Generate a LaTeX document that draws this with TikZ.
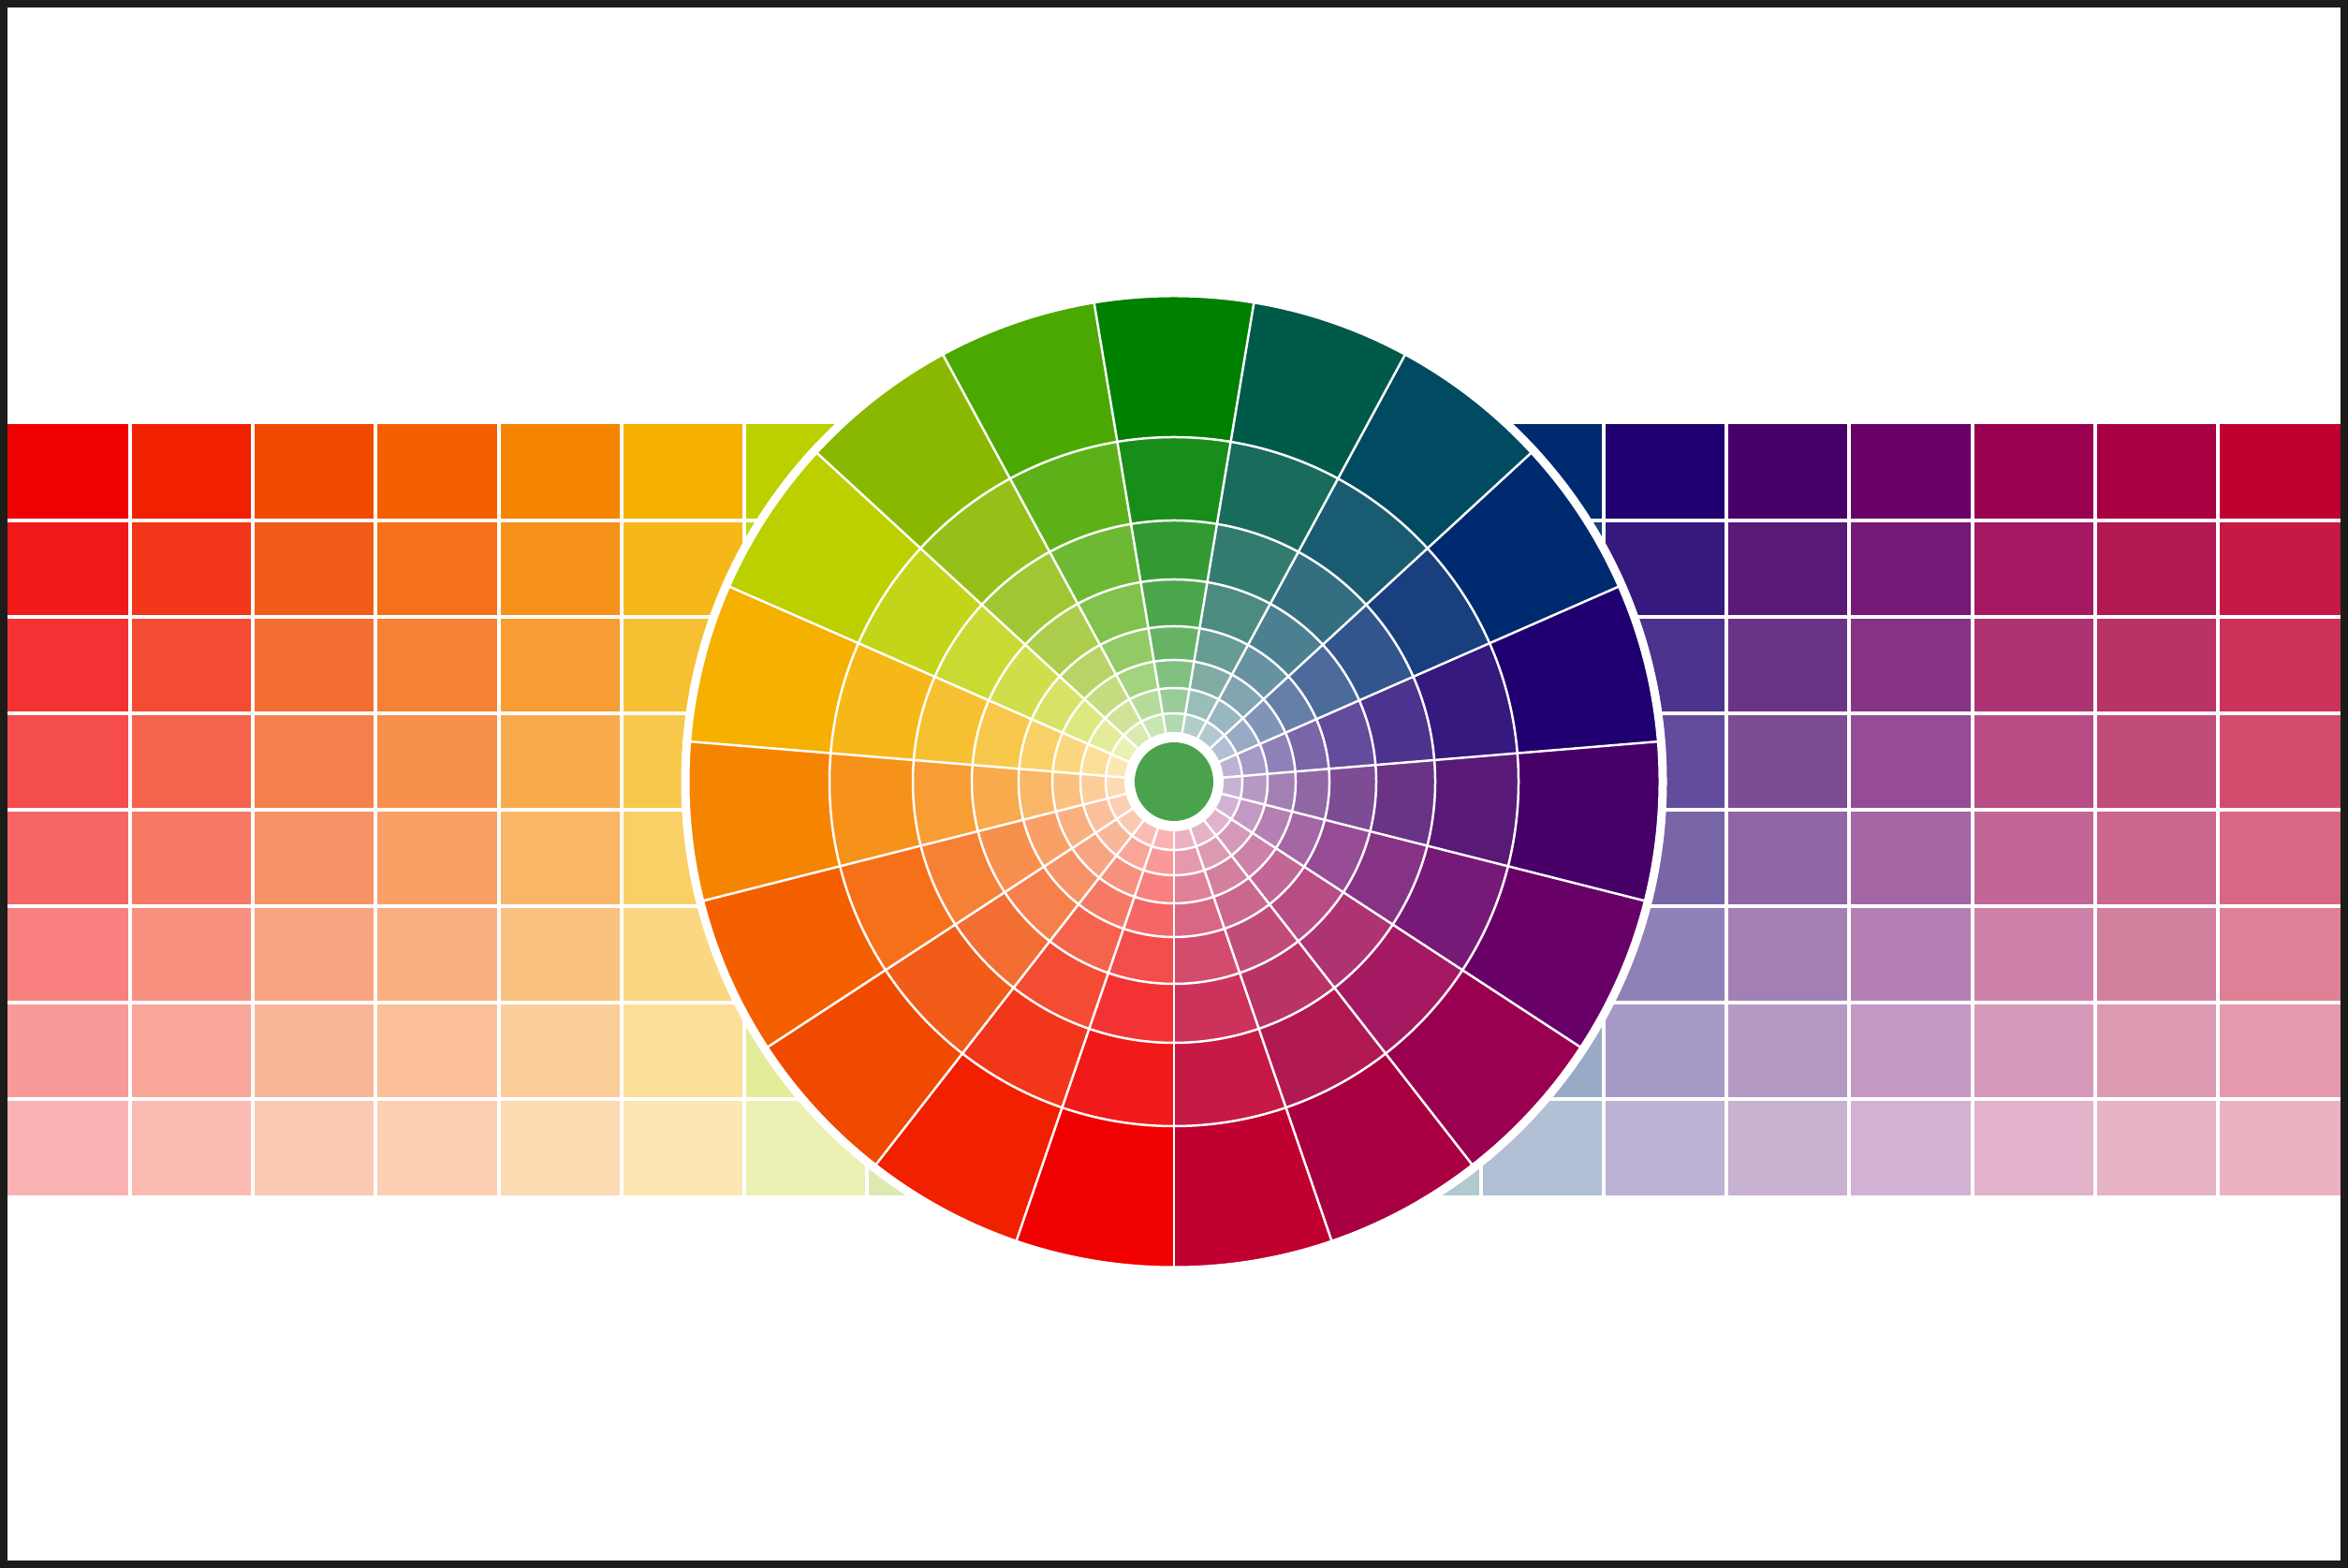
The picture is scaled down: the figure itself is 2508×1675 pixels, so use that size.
\documentclass[tikz,border=0pt]{standalone}
\usepackage{tikz}
\definecolor{frame}{HTML}{1C1C1B}
\definecolor{hubgreen}{HTML}{4AA34C}
\tikzset{
  cellgap/.style={white,line width=4pt},
  seam/.style={white,line width=2.5pt},
  rim/.style={white,line width=9pt}
}
\newcommand{\huelist}{F00000,F02000,F04A00,F46000,F58500,F5B000,BCD000,8AB800,4AA800,008000,005A4A,004A62,002A70,200070,460068,680068,9A0050,A80040,C00030}
\begin{document}
\begin{tikzpicture}[x=1pt,y=1pt]
    \useasboundingbox (0,0) rectangle (2508,1675);
    \fill[white] (0,0) rectangle (2508,1675);
    % grid of tints, one column per hue
    \foreach \c [count=\i from 0] in \huelist {
        \definecolor{base}{HTML}{\c}
        \foreach \r in {0,...,7} {
            \pgfmathtruncatemacro\pct{100-10*\r}
            \fill[base!\pct!white] ({8+131.16*\i},{1222-103*\r}) rectangle ++(131.16,-103);
        }
    }
    \foreach \j in {1,...,18} \draw[cellgap] ({8+131.16*\j},1222) -- ++(0,-824);
    \foreach \r in {1,...,7} \draw[cellgap] (8,{1222-103*\r}) -- (2500,{1222-103*\r});
    % colour wheel
    \coordinate (hub) at (1254,840);
    \begin{scope}[shift={(hub)}]
        \fill[white] (0,0) circle[radius=526];
        \foreach \c [count=\i from 0] in \huelist {
            \definecolor{base}{HTML}{\c}
            \pgfmathsetmacro\aa{270-360/19*(\i+1)}
            \pgfmathsetmacro\ab{270-360/19*\i}
            \foreach \ro/\ri [count=\r from 0] in {520/368,368/279,279/216,216/166,166/130,130/100,100/73,73/52} {
                \pgfmathtruncatemacro\pct{100-10*\r}
                \fill[base!\pct!white] (\aa:\ro) arc[start angle=\aa,end angle=\ab,radius=\ro]
                    -- (\ab:\ri) arc[start angle=\ab,end angle=\aa,radius=\ri] -- cycle;
            }
        }
        \foreach \k in {0,...,18} \draw[seam] ({270-360/19*\k}:52) -- ({270-360/19*\k}:520);
        \foreach \rr in {368,279,216,166,130,100,73} \draw[seam] (0,0) circle[radius=\rr];
        \draw[rim] (0,0) circle[radius=522];
        \fill[white] (0,0) circle[radius=53];
        \fill[hubgreen] (0,0) circle[radius=42];
    \end{scope}
    % frame
    \draw[frame,line width=8pt] (4,4) rectangle (2504,1671);
\end{tikzpicture}
\end{document}
